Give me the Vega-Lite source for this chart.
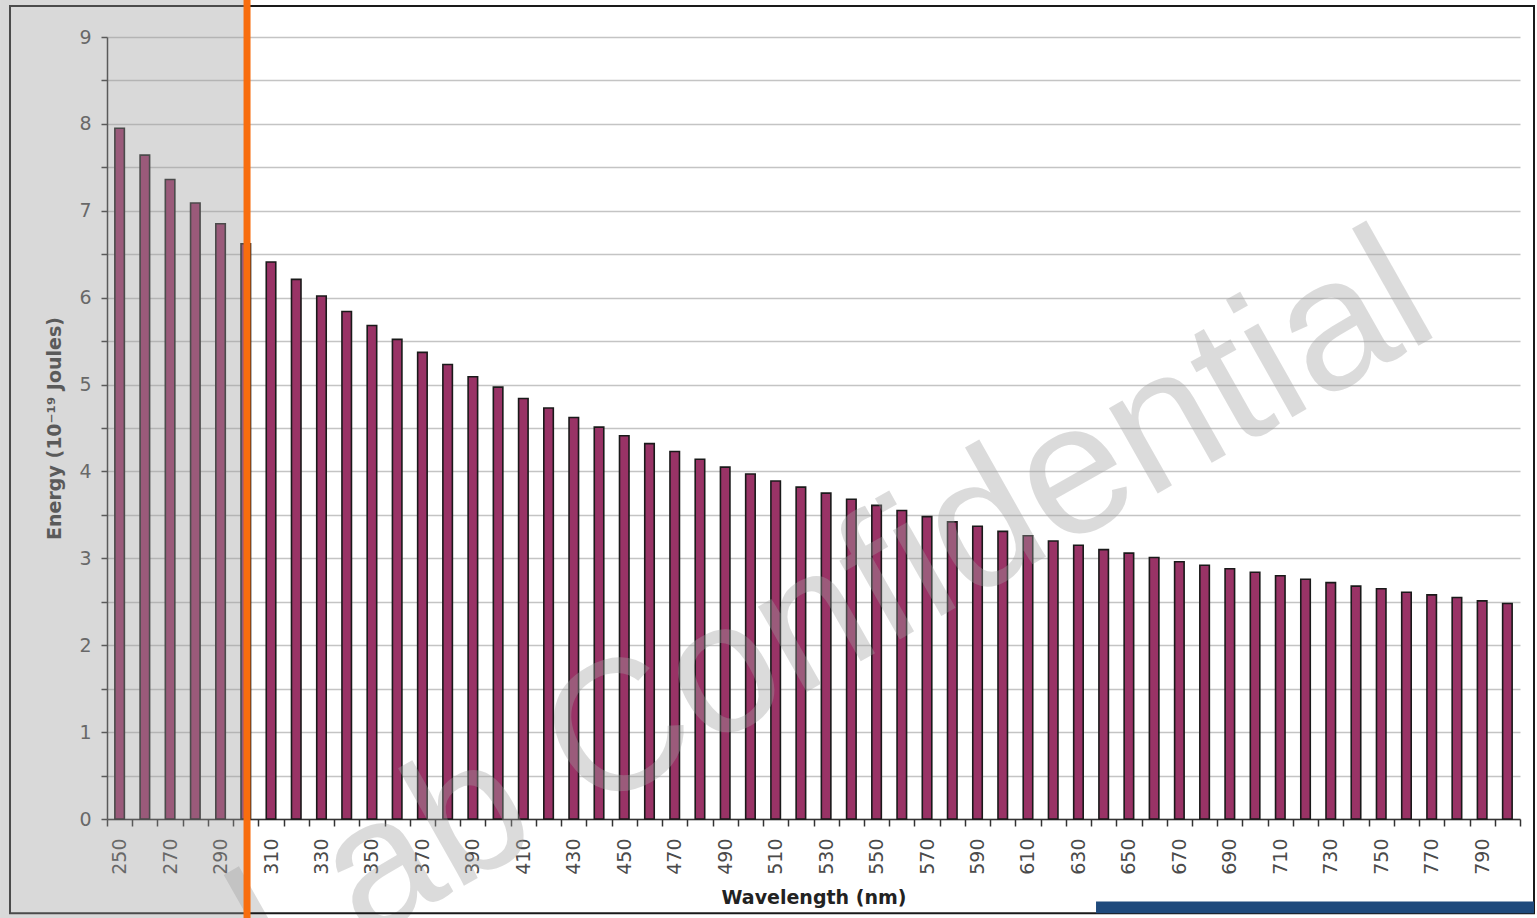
{
  "$schema": "https://vega.github.io/schema/vega-lite/v6.json",
  "width": 1413,
  "height": 782,
  "autosize": {"type": "none"},
  "padding": {"left": 107, "top": 37, "right": 17, "bottom": 99},
  "background": "white",
  "config": {"view": {"stroke": null}},
  "data": {
    "values": [
      {"wavelength": 250, "energy": 7.95}, {"wavelength": 260, "energy": 7.64}, {"wavelength": 270, "energy": 7.36},
      {"wavelength": 280, "energy": 7.09}, {"wavelength": 290, "energy": 6.85}, {"wavelength": 300, "energy": 6.62},
      {"wavelength": 310, "energy": 6.41}, {"wavelength": 320, "energy": 6.21}, {"wavelength": 330, "energy": 6.02},
      {"wavelength": 340, "energy": 5.84}, {"wavelength": 350, "energy": 5.68}, {"wavelength": 360, "energy": 5.52},
      {"wavelength": 370, "energy": 5.37}, {"wavelength": 380, "energy": 5.23}, {"wavelength": 390, "energy": 5.09},
      {"wavelength": 400, "energy": 4.97}, {"wavelength": 410, "energy": 4.84}, {"wavelength": 420, "energy": 4.73},
      {"wavelength": 430, "energy": 4.62}, {"wavelength": 440, "energy": 4.51}, {"wavelength": 450, "energy": 4.41},
      {"wavelength": 460, "energy": 4.32}, {"wavelength": 470, "energy": 4.23}, {"wavelength": 480, "energy": 4.14},
      {"wavelength": 490, "energy": 4.05}, {"wavelength": 500, "energy": 3.97}, {"wavelength": 510, "energy": 3.89},
      {"wavelength": 520, "energy": 3.82}, {"wavelength": 530, "energy": 3.75}, {"wavelength": 540, "energy": 3.68},
      {"wavelength": 550, "energy": 3.61}, {"wavelength": 560, "energy": 3.55}, {"wavelength": 570, "energy": 3.48},
      {"wavelength": 580, "energy": 3.42}, {"wavelength": 590, "energy": 3.37}, {"wavelength": 600, "energy": 3.31},
      {"wavelength": 610, "energy": 3.26}, {"wavelength": 620, "energy": 3.20}, {"wavelength": 630, "energy": 3.15},
      {"wavelength": 640, "energy": 3.10}, {"wavelength": 650, "energy": 3.06}, {"wavelength": 660, "energy": 3.01},
      {"wavelength": 670, "energy": 2.96}, {"wavelength": 680, "energy": 2.92}, {"wavelength": 690, "energy": 2.88},
      {"wavelength": 700, "energy": 2.84}, {"wavelength": 710, "energy": 2.80}, {"wavelength": 720, "energy": 2.76},
      {"wavelength": 730, "energy": 2.72}, {"wavelength": 740, "energy": 2.68}, {"wavelength": 750, "energy": 2.65},
      {"wavelength": 760, "energy": 2.61}, {"wavelength": 770, "energy": 2.58}, {"wavelength": 780, "energy": 2.55},
      {"wavelength": 790, "energy": 2.51}, {"wavelength": 800, "energy": 2.48}
    ]
  },
  "layer": [
    {
      "mark": {"type": "bar", "orient": "vertical", "width": 9.5, "fill": "#993366", "stroke": "#1a1a1a", "strokeWidth": 1.6},
      "encoding": {
        "x": {
          "field": "wavelength", "type": "quantitative", "title": "Wavelength (nm)",
          "scale": {"domain": [245, 805], "nice": false, "zero": false, "padding": 0},
          "axis": {
            "values": [245,250,255,260,265,270,275,280,285,290,295,300,305,310,315,320,325,330,335,340,345,350,355,360,365,370,375,380,385,390,395,400,405,410,415,420,425,430,435,440,445,450,455,460,465,470,475,480,485,490,495,500,505,510,515,520,525,530,535,540,545,550,555,560,565,570,575,580,585,590,595,600,605,610,615,620,625,630,635,640,645,650,655,660,665,670,675,680,685,690,695,700,705,710,715,720,725,730,735,740,745,750,755,760,765,770,775,780,785,790,795,800,805],
            "tickCount": 500,
            "labelExpr": "(datum.value - 250) % 20 === 0 && datum.value < 800 ? format(datum.value, 'd') : ''",
            "tickOpacity": {"condition": {"test": "datum.value % 10 === 5", "value": 1}, "value": 0},
            "tickSize": 7, "tickColor": "#333333", "tickWidth": 1.5,
            "domainColor": "#333333", "domainWidth": 1.5,
            "grid": false,
            "labelAngle": 270, "labelAlign": "right", "labelBaseline": "middle",
            "labelFont": "DejaVu Sans", "labelFontSize": 19, "labelColor": "#4a4a4a",
            "labelPadding": 12, "labelFlush": false, "labelOverlap": false,
            "titleFont": "DejaVu Sans", "titleFontWeight": "bold", "titleFontSize": 19, "titleColor": "#222222",
            "titleY": 78, "titleBaseline": "middle"
          }
        },
        "y": {
          "field": "energy", "type": "quantitative", "title": "Energy (10⁻¹⁹ Joules)",
          "scale": {"domain": [0, 9], "nice": false, "zero": true},
          "axis": {
            "values": [0,0.5,1,1.5,2,2.5,3,3.5,4,4.5,5,5.5,6,6.5,7,7.5,8,8.5,9],
            "tickCount": 500,
            "labelExpr": "datum.value % 1 === 0 ? format(datum.value, 'd') : ''",
            "tickSize": 6, "tickColor": "#333333", "tickWidth": 1.5,
            "domainColor": "#333333", "domainWidth": 1.5,
            "grid": true, "gridColor": "#c4c4c4", "gridWidth": 1.5,
            "labelFont": "DejaVu Sans", "labelFontSize": 19, "labelColor": "#4a4a4a",
            "labelPadding": 10, "labelOverlap": false, "labelFlush": false,
            "titleFont": "DejaVu Sans", "titleFontWeight": "bold", "titleFontSize": 19, "titleColor": "#333333",
            "titleX": -53, "titleY": 391, "titleAngle": 270, "titleAlign": "center", "titleBaseline": "middle"
          }
        }
      }
    },
    {
      "data": {"values": [{"label": "Lab Confidential"}]},
      "mark": {"type": "text", "font": "Liberation Sans", "fontSize": 186, "angle": 330.5, "align": "center", "baseline": "middle", "fill": "#a0a0a0", "opacity": 0.37},
      "encoding": {
        "x": {"datum": 531.9, "type": "quantitative", "title": "Wavelength (nm)"},
        "y": {"datum": 2.36, "type": "quantitative", "title": "Energy (10⁻¹⁹ Joules)"},
        "text": {"field": "label"}
      }
    },
    {
      "data": {"values": [{}]},
      "mark": {"type": "rect", "fill": null, "fillOpacity": 0, "stroke": "#1a1a1a", "strokeWidth": 2},
      "encoding": {
        "x": {"datum": 206.56, "type": "quantitative", "title": "Wavelength (nm)"},
        "x2": {"datum": 810.55},
        "y": {"datum": 9.3565, "type": "quantitative", "title": "Energy (10⁻¹⁹ Joules)"},
        "y2": {"datum": -1.086}
      }
    },
    {
      "data": {"values": [{}]},
      "mark": {"type": "rect", "fill": "#1f4a7c"},
      "encoding": {
        "x": {"datum": 636.97, "type": "quantitative", "title": "Wavelength (nm)"},
        "x2": {"datum": 810.55},
        "y": {"datum": -0.949, "type": "quantitative", "title": "Energy (10⁻¹⁹ Joules)"},
        "y2": {"datum": -1.086}
      }
    },
    {
      "data": {"values": [{}]},
      "mark": {"type": "rect", "fill": "#9b9b9b", "opacity": 0.38},
      "encoding": {
        "x": {"datum": 202.6, "type": "quantitative", "title": "Wavelength (nm)"},
        "x2": {"datum": 300},
        "y": {"datum": 9.43, "type": "quantitative", "title": "Energy (10⁻¹⁹ Joules)"},
        "y2": {"datum": -1.14}
      }
    },
    {
      "data": {"values": [{}]},
      "mark": {"type": "rule", "stroke": "#f86d0e", "strokeWidth": 7},
      "encoding": {
        "x": {"datum": 300.5, "type": "quantitative", "title": "Wavelength (nm)"},
        "y": {"datum": 9.43, "type": "quantitative", "title": "Energy (10⁻¹⁹ Joules)"},
        "y2": {"datum": -1.14}
      }
    }
  ]
}
